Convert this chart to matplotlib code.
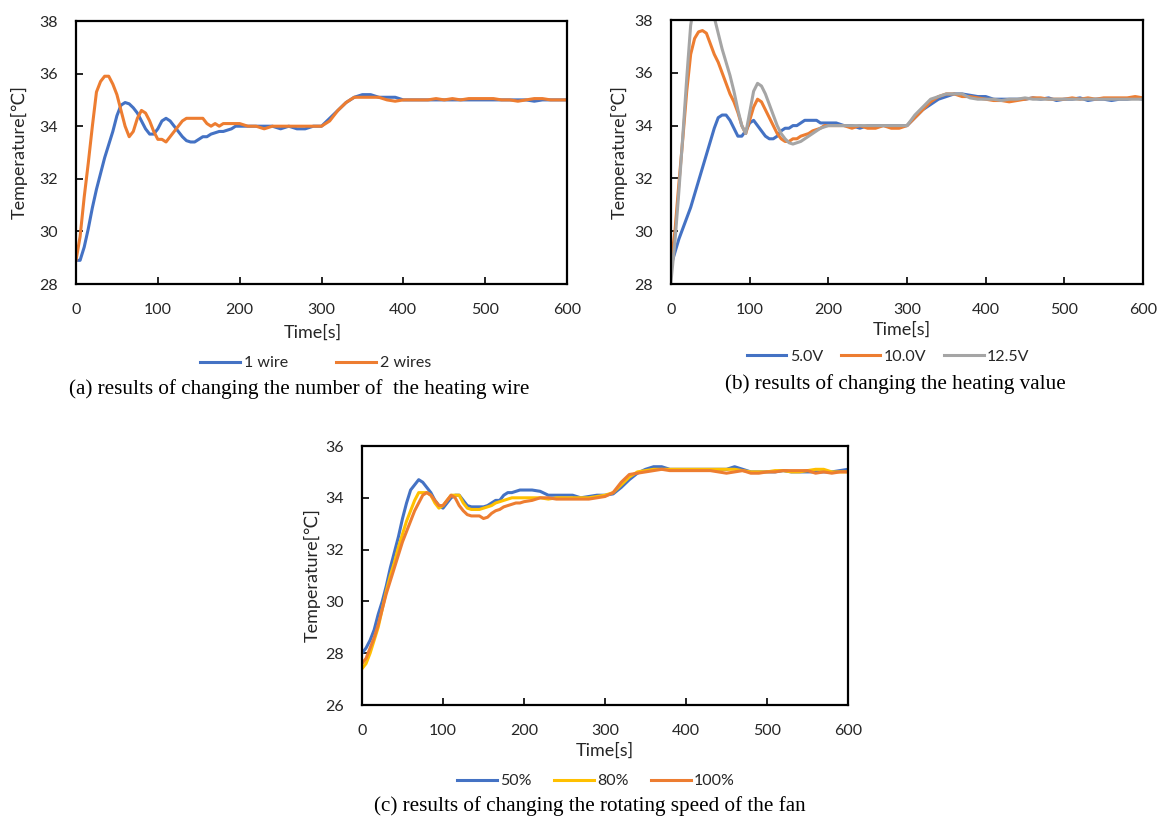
import matplotlib
matplotlib.use("Agg")
import matplotlib.pyplot as plt

# ---------------- data ----------------
TIME = [0, 5, 10, 15, 20, 25, 30, 35, 40, 45, 50, 55, 60, 65, 70, 75, 80, 85, 90, 95,
        100, 105, 110, 115, 120, 125, 130, 135, 140, 145, 150, 155, 160, 165, 170, 175,
        180, 185, 190, 195, 200,
        210, 220, 230, 240, 250, 260, 270, 280, 290, 300, 310, 320, 330, 340, 350, 360,
        370, 380, 390, 400, 410, 420, 430, 440, 450, 460, 470, 480, 490, 500, 510, 520,
        530, 540, 550, 560, 570, 580, 590, 600]

# (a) number of heating wires
a_1wire = [28.9, 28.9, 29.4, 30.1, 30.9, 31.6, 32.2, 32.8, 33.3, 33.8, 34.4, 34.8, 34.9, 34.85,
           34.7, 34.5, 34.2, 33.9, 33.7, 33.7, 33.9, 34.2, 34.3, 34.2, 34.0, 33.8, 33.6, 33.45,
           33.4, 33.4, 33.5, 33.6, 33.6, 33.7, 33.75, 33.8, 33.8, 33.85, 33.9, 34.0, 34.0,
           34.0, 34.0, 34.0, 34.0, 33.9, 34.0, 33.9, 33.9, 34.0, 34.0, 34.3, 34.6, 34.9, 35.1,
           35.2, 35.2, 35.1, 35.1, 35.1, 35.0, 35.0, 35.0, 35.0, 35.0, 35.0, 35.0, 35.0, 35.0,
           35.0, 35.0, 35.0, 35.0, 35.0, 35.0, 35.0, 34.95, 35.0, 35.0, 35.0, 35.0]
a_2wires = [28.9, 29.8, 31.3, 32.6, 34.0, 35.3, 35.7, 35.9, 35.9, 35.6, 35.2, 34.6, 34.0, 33.6,
            33.8, 34.3, 34.6, 34.5, 34.2, 33.8, 33.5, 33.5, 33.4, 33.6, 33.8, 34.0, 34.2, 34.3,
            34.3, 34.3, 34.3, 34.3, 34.1, 34.0, 34.1, 34.0, 34.1, 34.1, 34.1, 34.1, 34.1,
            34.0, 34.0, 33.9, 34.0, 34.0, 34.0, 34.0, 34.0, 34.0, 34.0, 34.2, 34.6, 34.9, 35.1,
            35.1, 35.1, 35.1, 35.0, 34.95, 35.0, 35.0, 35.0, 35.0, 35.05, 35.0, 35.05, 35.0,
            35.05, 35.05, 35.05, 35.05, 35.0, 35.0, 34.95, 35.0, 35.05, 35.05, 35.0, 35.0, 35.0]
a_labels = ["1 wire", "2 wires"]

# (b) heating value
b_5V = [28.7, 29.2, 29.7, 30.1, 30.5, 30.9, 31.4, 31.9, 32.4, 32.9, 33.4, 33.9, 34.3, 34.4,
        34.4, 34.2, 33.9, 33.6, 33.6, 33.8, 34.1, 34.2, 34.0, 33.8, 33.6, 33.5, 33.5, 33.6,
        33.8, 33.9, 33.9, 34.0, 34.0, 34.1, 34.2, 34.2, 34.2, 34.2, 34.1, 34.1, 34.1,
        34.1, 34.0, 34.0, 33.9, 34.0, 34.0, 34.0, 34.0, 34.0, 34.0, 34.3, 34.6, 34.8, 35.0,
        35.1, 35.2, 35.2, 35.15, 35.1, 35.1, 35.0, 35.0, 35.0, 35.0, 35.0, 35.05, 35.0, 35.05,
        34.95, 35.0, 35.0, 35.05, 34.95, 35.0, 35.0, 34.95, 35.0, 35.0, 35.05, 35.0]
b_10V = [28.8, 30.0, 31.8, 33.5, 35.3, 36.7, 37.3, 37.55, 37.6, 37.5, 37.1, 36.7, 36.4, 36.0,
         35.6, 35.2, 34.9, 34.5, 34.0, 33.7, 34.2, 34.7, 35.0, 34.9, 34.6, 34.3, 34.0, 33.7,
         33.5, 33.4, 33.4, 33.5, 33.5, 33.6, 33.65, 33.7, 33.8, 33.85, 33.9, 34.0, 34.0,
         34.0, 34.0, 33.9, 34.0, 33.9, 33.9, 34.0, 33.9, 33.9, 34.0, 34.3, 34.6, 34.9, 35.1,
         35.2, 35.2, 35.1, 35.1, 35.05, 35.0, 34.95, 34.95, 34.9, 34.95, 35.0, 35.05, 35.05,
         35.0, 35.0, 35.0, 35.05, 35.0, 35.05, 35.0, 35.05, 35.05, 35.05, 35.05, 35.1, 35.05]
b_125V = [28.1, 29.6, 31.5, 33.6, 35.8, 37.8, 38.7, 39.0, 39.1, 39.0, 38.6, 38.1, 37.5, 36.9,
          36.4, 35.9, 35.3, 34.6, 34.0, 33.7, 34.5, 35.3, 35.6, 35.5, 35.2, 34.8, 34.4, 34.0,
          33.7, 33.5, 33.35, 33.3, 33.35, 33.4, 33.5, 33.6, 33.7, 33.8, 33.9, 33.95, 34.0,
          34.0, 34.0, 34.0, 34.0, 34.0, 34.0, 34.0, 34.0, 34.0, 34.0, 34.4, 34.7, 35.0, 35.1,
          35.2, 35.2, 35.2, 35.05, 35.0, 35.0, 35.0, 34.95, 35.0, 35.0, 35.05, 35.0, 35.0,
          35.0, 35.0, 35.0, 35.0, 35.0, 35.0, 35.0, 35.0, 35.0, 35.0, 35.0, 35.0, 35.0]
b_labels = ["5.0V", "10.0V", "12.5V"]

# (c) fan rotating speed
c_50 = [28.0, 28.2, 28.5, 28.9, 29.5, 30.0, 30.6, 31.3, 31.9, 32.5, 33.2, 33.8, 34.3, 34.5,
        34.7, 34.6, 34.4, 34.2, 33.9, 33.7, 33.6, 33.8, 34.0, 34.1, 34.1, 33.9, 33.7, 33.65,
        33.65, 33.65, 33.65, 33.7, 33.8, 33.9, 33.9, 34.1, 34.2, 34.2, 34.25, 34.3, 34.3,
        34.3, 34.25, 34.1, 34.1, 34.1, 34.1, 34.0, 34.05, 34.1, 34.1, 34.15, 34.4, 34.7, 34.95,
        35.1, 35.2, 35.2, 35.1, 35.1, 35.1, 35.1, 35.1, 35.1, 35.1, 35.1, 35.2, 35.1, 35.0,
        35.0, 35.0, 35.0, 35.05, 35.0, 35.0, 35.0, 35.0, 35.0, 35.0, 35.05, 35.1]
c_80 = [27.4, 27.6, 28.0, 28.5, 29.0, 29.7, 30.4, 31.0, 31.5, 32.1, 32.6, 33.1, 33.5, 33.9,
        34.2, 34.2, 34.2, 34.1, 33.8, 33.6, 33.7, 33.9, 34.1, 34.1, 34.1, 33.8, 33.6, 33.55,
        33.55, 33.55, 33.6, 33.65, 33.7, 33.8, 33.85, 33.9, 33.95, 34.0, 34.0, 34.0, 34.0,
        34.0, 34.0, 33.95, 34.0, 34.0, 34.0, 34.0, 34.0, 34.05, 34.1, 34.2, 34.5, 34.8, 35.0,
        35.05, 35.1, 35.1, 35.1, 35.1, 35.1, 35.1, 35.1, 35.1, 35.1, 35.1, 35.1, 35.05, 35.0,
        35.0, 35.0, 35.05, 35.05, 35.0, 35.0, 35.05, 35.1, 35.1, 35.0, 35.0, 35.0]
c_100 = [27.6, 27.8, 28.2, 28.6, 29.1, 29.7, 30.3, 30.8, 31.3, 31.8, 32.3, 32.7, 33.1, 33.5,
         33.8, 34.1, 34.2, 34.1, 33.9, 33.7, 33.7, 33.9, 34.1, 34.0, 33.7, 33.5, 33.35, 33.3,
         33.3, 33.3, 33.2, 33.25, 33.4, 33.5, 33.55, 33.65, 33.7, 33.75, 33.8, 33.8, 33.85,
         33.9, 34.0, 34.0, 33.95, 33.95, 33.95, 33.95, 33.95, 34.0, 34.05, 34.2, 34.6, 34.9, 34.95,
         35.0, 35.05, 35.1, 35.05, 35.05, 35.05, 35.05, 35.05, 35.05, 35.0, 34.95, 35.0, 35.05,
         34.95, 34.95, 35.0, 35.0, 35.05, 35.05, 35.05, 35.05, 34.95, 35.0, 34.95, 35.0, 35.0]
c_labels = ["50%", "80%", "100%"]

X_TICKS = [0, 100, 200, 300, 400, 500, 600]

BLUE = "#4472C4"
ORANGE = "#ED7D31"
GRAY = "#A5A5A5"
YELLOW = "#FFC000"

SANS = ["Lato", "DejaVu Sans"]
SERIF = ["Liberation Serif", "DejaVu Serif"]
plt.rcParams["font.family"] = SANS

W, H = 1157, 822
fig = plt.figure(figsize=(W / 100, H / 100), dpi=100)


def ax_rect(l, r, t, b):
    return [l / W, 1 - b / H, (r - l) / W, (b - t) / H]


TXT = "#262626"
FS = 11.5
FS_LAB = 13
FS_CAP = 15.2


def style(ax, ylim, yticks, ylab_x, xlab_y, xlab_x=0.5):
    ax.set_xlim(0, 600)
    ax.set_ylim(*ylim)
    ax.set_xticks(X_TICKS)
    ax.set_yticks(yticks)
    ax.tick_params(direction="in", length=5, width=1.2, labelsize=FS, labelcolor=TXT)
    ax.tick_params(axis="x", pad=14)
    ax.tick_params(axis="y", pad=13)
    for s in ax.spines.values():
        s.set_linewidth(1.6)
        s.set_color("black")
    ax.set_xlabel("Time[s]", fontsize=FS_LAB, color=TXT)
    ax.set_ylabel("Temperature[℃]", fontsize=FS_LAB, color=TXT)
    ax.yaxis.set_label_coords(ylab_x, 0.5)
    ax.xaxis.set_label_coords(xlab_x, xlab_y)


LW = 2.2

# (a)
axa = fig.add_axes(ax_rect(76, 567, 21, 284))
la1, = axa.plot(TIME, a_1wire, color=BLUE, lw=LW)
la2, = axa.plot(TIME, a_2wires, color=ORANGE, lw=LW)
style(axa, (28, 38), [28, 30, 32, 34, 36, 38], -0.098, -0.156, 0.483)
fig.legend([la1, la2], a_labels, loc="center", bbox_to_anchor=(316 / W, 1 - 363 / H),
           ncol=2, frameon=False, fontsize=FS, handlelength=2.5, handletextpad=0.25,
           columnspacing=3.0, labelcolor=TXT)
fig.text(299 / W, 1 - 389 / H, "(a) results of changing the number of  the heating wire",
         ha="center", va="center", fontsize=FS_CAP, family=SERIF, color="black")

# (b)
axb = fig.add_axes(ax_rect(671, 1143, 20, 284))
lb1, = axb.plot(TIME, b_5V, color=BLUE, lw=LW)
lb2, = axb.plot(TIME, b_10V, color=ORANGE, lw=LW)
lb3, = axb.plot(TIME, b_125V, color=GRAY, lw=LW)
style(axb, (28, 38), [28, 30, 32, 34, 36, 38], -0.091, -0.144, 0.49)
fig.legend([lb1, lb2, lb3], b_labels, loc="center", bbox_to_anchor=(888 / W, 1 - 357 / H),
           ncol=3, frameon=False, fontsize=FS, handlelength=2.5, handletextpad=0.2,
           columnspacing=1.1, labelcolor=TXT)
fig.text(895 / W, 1 - 384 / H, "(b) results of changing the heating value",
         ha="center", va="center", fontsize=FS_CAP, family=SERIF, color="black")

# (c)
axc = fig.add_axes(ax_rect(362, 848, 446, 705))
lc1, = axc.plot(TIME, c_50, color=BLUE, lw=LW)
lc2, = axc.plot(TIME, c_80, color=YELLOW, lw=LW)
lc3, = axc.plot(TIME, c_100, color=ORANGE, lw=LW)
style(axc, (26, 36), [26, 28, 30, 32, 34, 36], -0.084, -0.147, 0.5)
fig.legend([lc1, lc2, lc3], c_labels, loc="center", bbox_to_anchor=(596 / W, 1 - 781 / H),
           ncol=3, frameon=False, fontsize=FS, handlelength=2.5, handletextpad=0.2,
           columnspacing=1.4, labelcolor=TXT)
fig.text(590 / W, 1 - 806 / H, "(c) results of changing the rotating speed of the fan",
         ha="center", va="center", fontsize=FS_CAP, family=SERIF, color="black")

fig.savefig("out.png", dpi=100, facecolor="white")
